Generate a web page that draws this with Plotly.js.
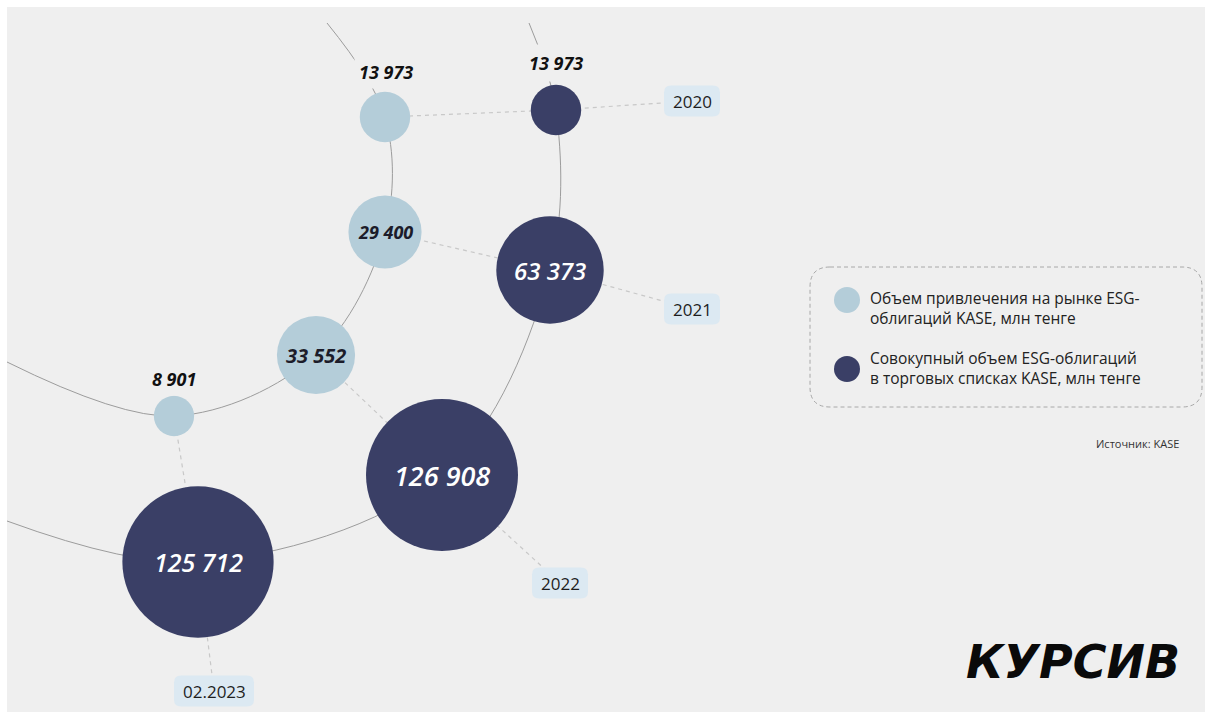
<!DOCTYPE html>
<html>
<head>
<meta charset="utf-8">
<script src="https://cdn.plot.ly/plotly-3.0.1.min.js"></script>
<style>html,body{margin:0;padding:0;background:#fff;}#chart{width:1209px;height:716px;}</style>
</head>
<body>
<div id="chart"></div>
<script>
// ---------- DATA ----------
const periods = ['2020', '2021', '2022', '02.2023'];
const raisedVolume = [13973, 29400, 33552, 8901];      // Объем привлечения, млн тенге
const totalVolume = [13973, 63373, 126908, 125712];    // Совокупный объем, млн тенге
const seriesNames = [
  'Объем привлечения на рынке ESG-<br>облигаций KASE, млн тенге',
  'Совокупный объем ESG-облигаций<br>в торговых списках KASE, млн тенге'
];
const sourceText = 'Источник: KASE';
const brandText = 'КУРСИВ';

// ---------- LAYOUT (positions on the canvas, px-like coordinates) ----------
const lightPos = [[385, 117], [385, 232], [316, 355], [174, 416]];
const darkPos = [[556, 110], [550, 270], [442, 475], [198, 562]];
const yearPos = [[692, 101], [692, 309], [560, 583], [214, 691]];
const yearBoxW = [56, 56, 56, 80];
const lightArcEnds = [[327, 23], [7, 362]];
const darkArcEnds = [[529, 23], [7, 521]];
// label placement: 'in' = inside bubble, [x,y] = outside position
const lightLabelPos = [[386, 72], 'in', 'in', [174, 379]];
const darkLabelPos = [[556, 63], 'in', 'in', 'in'];
const lightLabelSize = [18, 18, 20, 18];
const darkLabelSize = [18, 24, 27, 25];

const C_LIGHT = '#b4cdd9', C_DARK = '#3a3f66', BG = '#efefef';
const maxR = 76;
const sizeref = Math.max(...totalVolume) / (2 * maxR * maxR);

const fmt = v => String(v).replace(/\B(?=(\d{3})+(?!\d))/g, ' ');

function rr(x0, y0, x1, y1, r) {
  return `M${x0 + r},${y0} L${x1 - r},${y0} Q${x1},${y0} ${x1},${y0 + r} L${x1},${y1 - r} Q${x1},${y1} ${x1 - r},${y1} L${x0 + r},${y1} Q${x0},${y1} ${x0},${y1 - r} L${x0},${y0 + r} Q${x0},${y0} ${x0 + r},${y0} Z`;
}

const traces = [];
// dashed connectors light -> dark -> year label
periods.forEach((p, i) => {
  traces.push({
    x: [lightPos[i][0], darkPos[i][0], yearPos[i][0]],
    y: [lightPos[i][1], darkPos[i][1], yearPos[i][1]],
    mode: 'lines', line: {color: '#c8c8c8', width: 1.2, dash: '4px,4px'},
    hoverinfo: 'skip', showlegend: false
  });
});
// arcs
const lightArc = [lightArcEnds[0], ...lightPos, lightArcEnds[1]];
const darkArc = [darkArcEnds[0], ...darkPos, darkArcEnds[1]];
[lightArc, darkArc].forEach(arc => {
  traces.push({
    x: arc.map(p => p[0]), y: arc.map(p => p[1]),
    mode: 'lines', line: {color: '#9c9c9c', width: 1, shape: 'spline', smoothing: 1},
    hoverinfo: 'skip', showlegend: false
  });
});
// bubbles
traces.push({
  x: lightPos.map(p => p[0]), y: lightPos.map(p => p[1]),
  mode: 'markers', name: seriesNames[0], text: periods, customdata: raisedVolume,
  marker: {size: raisedVolume, sizemode: 'area', sizeref: sizeref, color: C_LIGHT, line: {width: 0}, opacity: 1},
  hovertemplate: '%{text}: %{customdata}<extra></extra>', showlegend: false
});
traces.push({
  x: darkPos.map(p => p[0]), y: darkPos.map(p => p[1]),
  mode: 'markers', name: seriesNames[1], text: periods, customdata: totalVolume,
  marker: {size: totalVolume, sizemode: 'area', sizeref: sizeref, color: C_DARK, line: {width: 0}, opacity: 1},
  hovertemplate: '%{text}: %{customdata}<extra></extra>', showlegend: false
});
// legend swatches
traces.push({
  x: [847, 847], y: [300, 369], mode: 'markers',
  marker: {size: 26, color: [C_LIGHT, C_DARK], line: {width: 0}},
  hoverinfo: 'skip', showlegend: false
});

const shapes = [
  {type: 'rect', layer: 'below', xref: 'x', yref: 'y', x0: 7, y0: 7, x1: 1205, y1: 712, fillcolor: BG, line: {width: 0}},
  {type: 'path', layer: 'above', xref: 'x', yref: 'y', path: rr(810, 267, 1202, 407, 20), line: {color: '#a8a8a8', width: 1, dash: '4px,3px'}, fillcolor: 'rgba(0,0,0,0)'}
];
periods.forEach((p, i) => {
  const [cx, cy] = yearPos[i], w = yearBoxW[i], h = 31;
  shapes.push({type: 'path', layer: 'above', xref: 'x', yref: 'y', path: rr(cx - w / 2, cy - h / 2, cx + w / 2, cy + h / 2, 7), fillcolor: '#dce9f2', line: {width: 0}});
});

const annotations = [];
const italic = (size, color, weight) => ({family: 'Open Sans, sans-serif', size: size, color: color, style: 'italic', weight: weight});
periods.forEach((p, i) => {
  annotations.push({x: yearPos[i][0], y: yearPos[i][1], text: p, showarrow: false, xanchor: 'center', yanchor: 'middle',
    font: {family: 'Open Sans, sans-serif', size: 17, color: '#1e1e1e'}});
  const lp = lightLabelPos[i];
  if (lp === 'in') {
    annotations.push({x: lightPos[i][0], y: lightPos[i][1], text: fmt(raisedVolume[i]), showarrow: false,
      font: italic(lightLabelSize[i], '#1c1c2a', 700)});
  } else {
    annotations.push({x: lp[0], y: lp[1], text: fmt(raisedVolume[i]), showarrow: false, bgcolor: BG, borderpad: 4,
      font: italic(lightLabelSize[i], '#111111', 700)});
  }
  const dp = darkLabelPos[i];
  if (dp === 'in') {
    annotations.push({x: darkPos[i][0], y: darkPos[i][1], text: fmt(totalVolume[i]), showarrow: false,
      font: italic(darkLabelSize[i], '#ffffff', 600)});
  } else {
    annotations.push({x: dp[0], y: dp[1], text: fmt(totalVolume[i]), showarrow: false, bgcolor: BG, borderpad: 6,
      font: italic(darkLabelSize[i], '#111111', 700)});
  }
});
// legend texts
annotations.push({x: 868, y: 308, text: seriesNames[0], showarrow: false, xanchor: 'left', yanchor: 'middle', align: 'left',
  font: {family: 'Open Sans, sans-serif', size: 15.5, color: '#222'}});
annotations.push({x: 868, y: 368, text: seriesNames[1], showarrow: false, xanchor: 'left', yanchor: 'middle', align: 'left',
  font: {family: 'Open Sans, sans-serif', size: 15.5, color: '#222'}});
annotations.push({x: 1181, y: 443, text: sourceText, showarrow: false, xanchor: 'right', yanchor: 'middle',
  font: {family: 'Open Sans, sans-serif', size: 11, color: '#333'}});
annotations.push({x: 1182, y: 662, text: brandText, showarrow: false, xanchor: 'right', yanchor: 'middle',
  font: {family: 'DejaVu Sans, sans-serif', size: 46, color: '#0a0a0a', style: 'italic', weight: 'bold'}});

const layout = {
  width: 1209, height: 716,
  margin: {l: 0, r: 0, t: 0, b: 0, pad: 0},
  paper_bgcolor: '#ffffff', plot_bgcolor: 'rgba(0,0,0,0)',
  xaxis: {range: [0, 1209], visible: false, fixedrange: true},
  yaxis: {range: [716, 0], visible: false, fixedrange: true},
  shapes: shapes, annotations: annotations, showlegend: false, hovermode: 'closest'
};
Plotly.newPlot('chart', traces, layout, {displayModeBar: false});
</script>
</body>
</html>
